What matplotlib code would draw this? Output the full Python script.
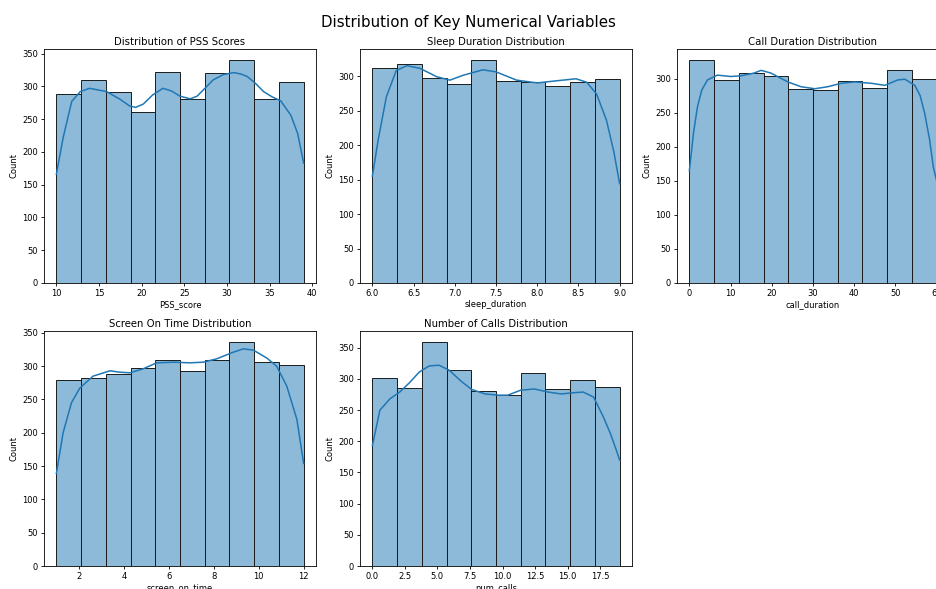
import numpy as np
from matplotlib import pyplot as plt
from matplotlib.colors import to_rgba

# bin counts (10 bins per variable)
pss_range = (10, 39)
pss_counts = [288, 310, 292, 261, 322, 280, 320, 340, 280, 306]
pss_kde_x = [10, 10.8, 11.8, 12.8, 13.9, 15.9, 17.5, 18.6, 19.3, 20.2, 21.3, 22.5, 23.5, 24.5,
             25.7, 26.5, 27.5, 28.4, 29.6, 30.8, 31.6, 32.4, 33.4, 34.3, 35.3, 36.3, 37.5, 38.3, 39]
pss_kde_y = [166, 222, 277, 292, 297, 292, 280, 270, 268, 273, 287, 297, 293, 285,
             281, 285, 298, 310, 318, 321, 319, 315, 304, 292, 284, 278, 256, 228, 183]

sleep_range = (6.0, 9.0)
sleep_counts = [312, 318, 297, 289, 323, 293, 291, 286, 292, 296]
sleep_kde_x = [6.0, 6.07, 6.17, 6.29, 6.42, 6.58, 6.78, 6.94, 7.1, 7.34, 7.5, 7.75, 8.0,
               8.23, 8.47, 8.6, 8.72, 8.84, 8.93, 9.0]
sleep_kde_y = [155, 207, 270, 308, 315, 311, 299, 294, 301, 309, 306, 294, 290,
               293, 296, 291, 274, 236, 190, 144]

call_range = (0, 60)
call_counts = [327, 298, 308, 304, 285, 283, 297, 286, 313, 300]
call_kde_x = [0, 1.0, 1.95, 3.0, 4.4, 6.8, 10, 12.5, 15.7, 17.4, 19.8, 23.9, 27.1, 30.4,
              33.6, 36.8, 40.1, 44.2, 47.4, 50.6, 52.3, 54.7, 56.0, 57.1, 58.3, 59.2, 60]
call_kde_y = [165, 220, 258, 283, 298, 305, 303, 304, 308, 312, 308, 295, 288, 285,
              288, 293, 295, 293, 290, 298, 299, 290, 275, 249, 210, 170, 150]

screen_range = (1, 12)
screen_counts = [279, 282, 288, 297, 309, 293, 310, 336, 306, 302]
screen_kde_x = [1, 1.3, 1.67, 2.04, 2.63, 3.38, 3.82, 4.27, 4.86, 5.46, 6.2, 6.94, 7.54,
                8.13, 8.87, 9.32, 9.77, 10.37, 10.8, 11.25, 11.7, 12]
screen_kde_y = [139, 200, 245, 267, 285, 293, 291, 290, 296, 305, 306, 305, 306,
                311, 321, 326, 324, 312, 300, 270, 220, 154]

calls_range = (0, 19)
calls_counts = [301, 286, 359, 315, 281, 274, 310, 284, 299, 287]
calls_kde_x = [0, 0.58, 1.34, 2.1, 2.85, 3.6, 4.37, 5.13, 5.9, 6.9, 7.65, 8.66, 9.67, 10.4,
               11.4, 12.45, 13.5, 14.5, 15.5, 16.2, 17.0, 17.75, 18.3, 18.76, 19]
calls_kde_y = [193, 250, 268, 279, 294, 311, 321, 322, 314, 295, 283, 276, 274, 274,
               282, 284, 279, 276, 278, 279, 271, 239, 212, 185, 170]

panels = [
    ("Distribution of PSS Scores", "PSS_score", pss_range, pss_counts, pss_kde_x, pss_kde_y,
     [10, 15, 20, 25, 30, 35, 40], None),
    ("Sleep Duration Distribution", "sleep_duration", sleep_range, sleep_counts, sleep_kde_x, sleep_kde_y,
     [6.0, 6.5, 7.0, 7.5, 8.0, 8.5, 9.0], "{:.1f}"),
    ("Call Duration Distribution", "call_duration", call_range, call_counts, call_kde_x, call_kde_y,
     [0, 10, 20, 30, 40, 50, 60], None),
    ("Screen On Time Distribution", "screen_on_time", screen_range, screen_counts, screen_kde_x, screen_kde_y,
     [2, 4, 6, 8, 10, 12], None),
    ("Number of Calls Distribution", "num_calls", calls_range, calls_counts, calls_kde_x, calls_kde_y,
     [0.0, 2.5, 5.0, 7.5, 10.0, 12.5, 15.0, 17.5], "{:.1f}"),
]

# axes boxes in pixels (left, top, right, bottom)
W, H = 937, 589
boxes = [
    (44, 49, 316, 283), (360, 49, 632, 283), (677, 49, 949, 283),
    (44, 331, 316, 566), (360, 331, 632, 566),
]

plt.rcParams['font.family'] = 'DejaVu Sans'
plt.rcParams['axes.linewidth'] = 0.6
plt.rcParams['xtick.major.width'] = 0.6
plt.rcParams['ytick.major.width'] = 0.6
plt.rcParams['xtick.major.size'] = 2.2
plt.rcParams['ytick.major.size'] = 2.2

fig = plt.figure(figsize=(W / 100, H / 100), dpi=100)
blue = "#1f77b4"

for (title, xlabel, rng, counts, kx, ky, xticks, fmt), (l, t, r, b) in zip(panels, boxes):
    ax = fig.add_axes([l / W, (H - b) / H, (r - l) / W, (b - t) / H])
    edges = np.linspace(rng[0], rng[1], len(counts) + 1)
    ax.bar(edges[:-1], counts, width=np.diff(edges), align='edge',
           facecolor=to_rgba(blue, 0.5), edgecolor='#1a1a1a', linewidth=0.7)
    ax.plot(kx, ky, color=blue, linewidth=1.1)
    ax.set_xticks(xticks)
    if fmt:
        ax.set_xticklabels([fmt.format(v) for v in xticks])
    ax.tick_params(labelsize=6, pad=2)
    ax.set_title(title, fontsize=7.3, pad=3)
    ax.set_xlabel(xlabel, fontsize=6, labelpad=1.5)
    ax.set_ylabel("Count", fontsize=6, labelpad=3)

fig.suptitle("Distribution of Key Numerical Variables", fontsize=10.8, y=0.975)

fig.savefig("out.png", dpi=100)
